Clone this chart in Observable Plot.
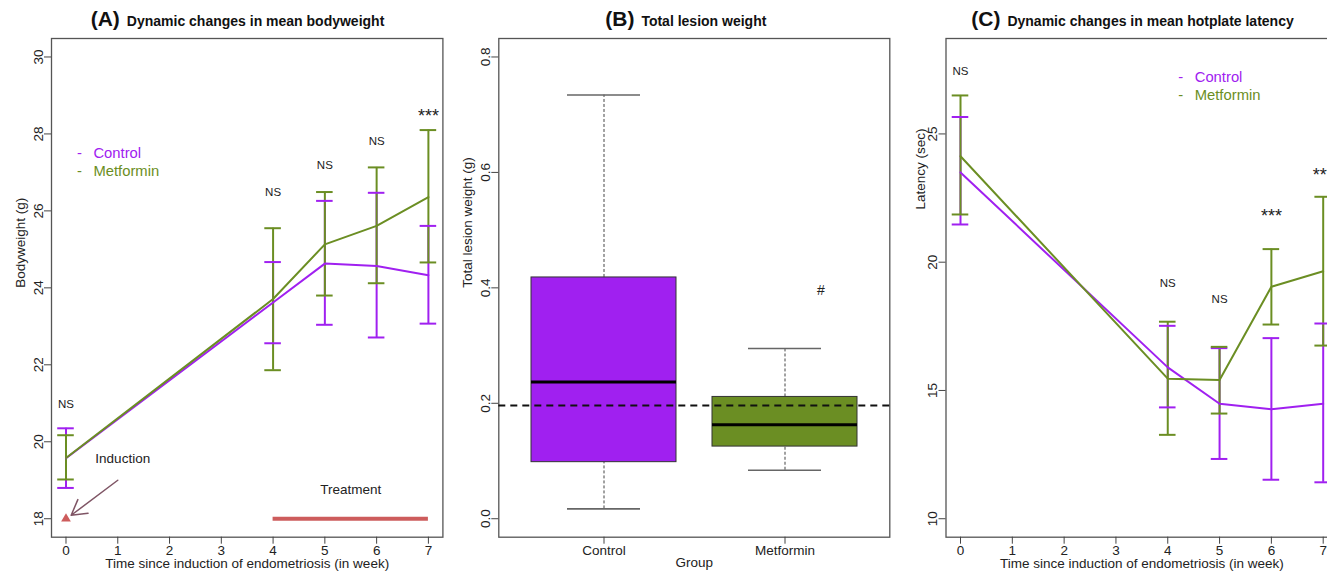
<!DOCTYPE html>
<html><head><meta charset="utf-8">
<script src="https://cdn.jsdelivr.net/npm/d3@7"></script>
<script src="https://cdn.jsdelivr.net/npm/@observablehq/plot@0.6"></script>
<style>
body{margin:0;background:#fff;}
#root{position:relative;width:1327px;height:575px;overflow:hidden;background:#fff;font-family:"Liberation Sans",Arial,sans-serif;}
.panel{position:absolute;top:0;height:575px;}
.panel svg{max-width:none !important;display:block;}
.title{position:absolute;top:7px;width:500px;display:flex;align-items:baseline;justify-content:center;white-space:nowrap;color:#111;font-weight:bold;line-height:24px;}
.title .big{font-size:21px;margin-right:7px;}
.title .small{font-size:14px;}
</style></head>
<body><div id="root"></div>
<script>
// ---------- data ----------
const groups = ["Control", "Metformin"];
const groupColors = ["#A020F0", "#6B8E23"];
const weeks = [0, 4, 5, 6, 7];
const weekTicks = [0, 1, 2, 3, 4, 5, 6, 7];

// (A) bodyweight (g)
const bwControlMean = [19.57, 23.62, 24.63, 24.57, 24.33];
const bwControlLo   = [18.80, 22.56, 23.04, 22.71, 23.07];
const bwControlHi   = [20.35, 24.67, 26.26, 26.47, 25.61];
const bwMetMean     = [19.58, 23.71, 25.13, 25.61, 26.36];
const bwMetLo       = [19.02, 21.86, 23.80, 24.12, 24.66];
const bwMetHi       = [20.17, 25.55, 26.49, 27.13, 28.10];
const bwSig  = ["NS", "NS", "NS", "NS", "***"];
const bwSigY = [20.98, 26.48, 27.19, 27.80, 28.57];
const bwTicks = [18, 20, 22, 24, 26, 28, 30];
const treatmentWeeks = [4, 7];

// (B) total lesion weight (g)
const lesionMin    = [0.017, 0.084];
const lesionQ1     = [0.098, 0.125];
const lesionMedian = [0.237, 0.163];
const lesionQ3     = [0.418, 0.211];
const lesionMax    = [0.734, 0.295];
const lesionRef = 0.196;
const lesionTicks = [0, 0.2, 0.4, 0.6, 0.8];

// (C) hotplate latency (sec)
const latControlMean = [23.50, 15.90, 14.48, 14.27, 14.48];
const latControlLo   = [21.47, 14.34, 12.33, 11.52, 11.42];
const latControlHi   = [25.66, 17.52, 16.65, 17.04, 17.61];
const latMetMean     = [24.13, 15.46, 15.41, 19.04, 19.65];
const latMetLo       = [21.86, 13.27, 14.10, 17.57, 16.75];
const latMetHi       = [26.50, 17.68, 16.70, 20.51, 22.55];
const latSig  = ["NS", "NS", "NS", "***", "***"];
const latSigY = [27.44, 19.17, 18.57, 21.94, 23.56];
const latTicks = [10, 15, 20, 25];

// ---------- helpers ----------
const FONT = '"Liberation Sans", Arial, sans-serif';
const rowsOf = (cm, cl, ch, mm, ml, mh) => [
  ...weeks.map((w, i) => ({week: w, group: groups[0], mean: cm[i], lo: cl[i], hi: ch[i]})),
  ...weeks.map((w, i) => ({week: w, group: groups[1], mean: mm[i], lo: ml[i], hi: mh[i]}))
];
const sigRows = (labels, ys) => weeks.map((w, i) => ({week: w, label: labels[i], y: ys[i]}));
const CAP = 0.16;

function commonAxes(yTicks, yFmt) {
  return [
    Plot.frame({stroke: "#555", strokeWidth: 1.3}),
    Plot.axisY({ticks: yTicks, tickFormat: yFmt, tickSize: 7, tickPadding: 2, tickRotate: -90, fontSize: 13.5, label: null, stroke: "#444"}),
  ];
}

function linePanel(cfg) {
  const rows = rowsOf(...cfg.series);
  const sig = sigRows(cfg.sig, cfg.sigY);
  const errMarks = [
    Plot.ruleX(rows, {x: "week", y1: "lo", y2: "hi", stroke: "group", strokeWidth: 2}),
    Plot.ruleY(rows, {y: "lo", x1: d => d.week - CAP, x2: d => d.week + CAP, stroke: "group", strokeWidth: 2}),
    Plot.ruleY(rows, {y: "hi", x1: d => d.week - CAP, x2: d => d.week + CAP, stroke: "group", strokeWidth: 2}),
  ];
  return Plot.plot({
    width: cfg.width, height: 575,
    marginLeft: cfg.ml, marginRight: cfg.mr, marginTop: 38, marginBottom: 38.3,
    style: {fontFamily: FONT, color: "#222", background: "transparent", overflow: "visible"},
    x: {domain: [-0.28, 7.28]},
    y: {domain: cfg.yDomain},
    color: {domain: groups, range: groupColors},
    marks: [
      ...commonAxes(cfg.yTicks),
      Plot.axisX({ticks: weekTicks, tickSize: 7, tickPadding: 1, fontSize: 13.5, label: null, stroke: "#444"}),
      ...(cfg.extra || []),
      ...errMarks,
      Plot.line(rows, {x: "week", y: "mean", z: "group", stroke: "group", strokeWidth: 2}),
      Plot.text(sig.filter(d => d.label === "NS"), {x: "week", y: "y", text: "label", fontSize: 11.5, fill: "#222"}),
      Plot.text(sig.filter(d => d.label !== "NS"), {x: "week", y: "y", text: "label", fontSize: 18, dy: 4, fill: "#222"}),
      Plot.text(groups.map((g, i) => ({g, x: cfg.legX, y: cfg.legY[i]})), {x: "x", y: "y", text: "g", fill: "g", textAnchor: "start", fontSize: 14.8}),
      Plot.text(groups.map((g, i) => ({g, x: cfg.legX, y: cfg.legY[i]})), {x: "x", y: "y", text: () => "-", fill: "g", dx: -14, fontSize: 14.8}),
      Plot.text([cfg.yLabel], {frameAnchor: cfg.yLabelAnchor || "left", dx: cfg.yLabelDx, dy: cfg.yLabelDy || 0, rotate: -90, fontSize: 13.5, fill: "#222"}),
      Plot.text(["Time since induction of endometriosis (in week)"], {frameAnchor: "bottom", dy: 30.6, fontSize: 13.5, fill: "#222"}),
    ]
  });
}

const root = document.getElementById("root");
function place(node, left, width) {
  const d = document.createElement("div");
  d.className = "panel"; d.style.left = left + "px"; d.style.width = width + "px";
  d.appendChild(node); root.appendChild(d);
}
function title(letter, text, center) {
  const t = document.createElement("div");
  t.className = "title"; t.style.left = (center - 250) + "px";
  t.innerHTML = `<span class="big">(${letter})</span><span class="small">${text}</span>`;
  root.appendChild(t);
}

// ---------- (A) ----------
const plotA = linePanel({
  width: 450, ml: 51, mr: 7.6,
  series: [bwControlMean, bwControlLo, bwControlHi, bwMetMean, bwMetLo, bwMetHi],
  sig: bwSig, sigY: bwSigY, yDomain: [17.52, 30.48], yTicks: bwTicks,
  legX: 0.53, legY: [27.51, 27.04],
  yLabel: "Bodyweight (g)", yLabelDx: -31,
  extra: [
    Plot.ruleY([{y: 18, x1: treatmentWeeks[0], x2: treatmentWeeks[1]}], {y: "y", x1: "x1", x2: "x2", stroke: "#CD5C5C", strokeWidth: 4}),
    Plot.dot([{x: 0, y: 18}], {x: "x", y: "y", symbol: "triangle", fill: "#CD5C5C", r: 3.6}),
    Plot.arrow([{x1: 1.0, y1: 19.0, x2: 0.1, y2: 18.09}], {x1: "x1", y1: "y1", x2: "x2", y2: "y2", stroke: "#7f5565", strokeWidth: 1.5, headLength: 17, headAngle: 60}),
    Plot.text([{x: 0.567, y: 19.57, t: "Induction"}], {x: "x", y: "y", text: "t", textAnchor: "start", fontSize: 13.5, fill: "#222"}),
    Plot.text([{x: 5.5, y: 18.76, t: "Treatment"}], {x: "x", y: "y", text: "t", fontSize: 13.5, fill: "#222"}),
  ]
});
place(plotA, 0, 450);

// ---------- (B) ----------
const boxRows = groups.map((g, i) => ({group: g, min: lesionMin[i], q1: lesionQ1[i], median: lesionMedian[i], q3: lesionQ3[i], max: lesionMax[i]}));
const plotB = Plot.plot({
  width: 450, height: 575,
  marginLeft: 48.3, marginRight: 10.7, marginTop: 38, marginBottom: 38.3,
  style: {fontFamily: FONT, color: "#222", background: "transparent", overflow: "visible"},
  x: {type: "band", domain: groups, paddingInner: 0.2, paddingOuter: 0.18},
  y: {domain: [-0.032, 0.832]},
  color: {domain: groups, range: groupColors},
  marks: [
    ...commonAxes(lesionTicks, d3.format(".1f")),
    Plot.axisX({tickSize: 7, tickPadding: 1, fontSize: 13.5, label: null, stroke: "#444"}),
    Plot.ruleX(boxRows, {x: "group", y1: "q3", y2: "max", stroke: "#444", strokeDasharray: "3,2"}),
    Plot.ruleX(boxRows, {x: "group", y1: "min", y2: "q1", stroke: "#444", strokeDasharray: "3,2"}),
    Plot.tickY(boxRows, {x: "group", y: "max", inset: 36, stroke: "#666", strokeWidth: 1.6}),
    Plot.tickY(boxRows, {x: "group", y: "min", inset: 36, stroke: "#666", strokeWidth: 1.6}),
    Plot.barY(boxRows, {x: "group", y1: "q1", y2: "q3", fill: "group", stroke: "#333", strokeWidth: 1}),
    Plot.tickY(boxRows, {x: "group", y: "median", stroke: "#000", strokeWidth: 3}),
    Plot.ruleY([lesionRef], {stroke: "#111", strokeWidth: 2, strokeDasharray: "7,5"}),
    Plot.text([{g: "Metformin", y: 0.396, t: "#"}], {x: "g", y: "y", text: "t", dx: 36, fontSize: 14, fill: "#222"}),
    Plot.text(["Total lesion weight (g)"], {frameAnchor: "left", dx: -31.6, rotate: -90, fontSize: 13.5, fill: "#222"}),
    Plot.text(["Group"], {frameAnchor: "bottom", dy: 30, fontSize: 13.5, fill: "#222"}),
  ]
});
place(plotB, 450, 450);

// ---------- (C) ----------
const plotC = linePanel({
  width: 455, ml: 55.5, mr: 7.8,
  series: [latControlMean, latControlLo, latControlHi, latMetMean, latMetLo, latMetHi],
  sig: latSig, sigY: latSigY, yDomain: [9.28, 28.72], yTicks: latTicks,
  legX: 4.52, legY: [27.22, 26.52],
  yLabel: "Latency (sec)", yLabelAnchor: "top-left", yLabelDx: -30.5, yLabelDy: 171,
});
place(plotC, 890, 455);

title("A", "Dynamic changes in mean bodyweight", 237.5);
title("B", "Total lesion weight", 685.8);
title("C", "Dynamic changes in mean hotplate latency", 1132.5);
</script>
</body></html>
